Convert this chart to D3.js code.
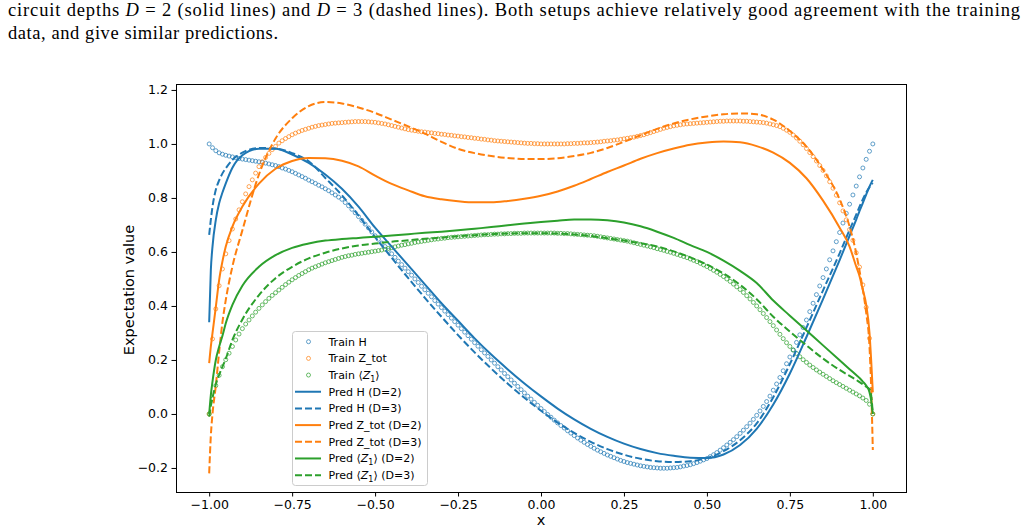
<!DOCTYPE html>
<html>
<head>
<meta charset="utf-8">
<script src="https://cdn.jsdelivr.net/npm/d3@7"></script>
<style>
  body { margin: 0; background: #fff; }
  svg { display: block; }
</style>
</head>
<body>
<div id="chart"></div>
<script>
// ---- data ----
// training points: x = -1.00 ... 1.00 in steps of 0.01 (201 points)
var trainH = [
  1.000,0.986,0.975,0.967,0.962,0.958,0.955,0.952,0.949,0.946,
  0.944,0.942,0.940,0.938,0.936,0.934,0.932,0.929,0.926,0.923,
  0.920,0.916,0.911,0.907,0.902,0.897,0.891,0.885,0.879,0.873,
  0.866,0.860,0.854,0.847,0.841,0.834,0.827,0.819,0.811,0.803,
  0.795,0.783,0.771,0.758,0.745,0.731,0.717,0.703,0.689,0.674,
  0.660,0.647,0.633,0.620,0.606,0.593,0.580,0.566,0.553,0.540,
  0.527,0.514,0.500,0.487,0.473,0.460,0.447,0.434,0.420,0.407,
  0.394,0.381,0.368,0.355,0.342,0.329,0.316,0.303,0.290,0.277,
  0.264,0.251,0.238,0.226,0.213,0.200,0.188,0.175,0.163,0.150,
  0.138,0.126,0.114,0.102,0.090,0.078,0.066,0.055,0.043,0.032,
  0.020,0.009,-0.002,-0.012,-0.023,-0.033,-0.043,-0.052,-0.062,-0.071,
  -0.080,-0.089,-0.097,-0.105,-0.113,-0.120,-0.127,-0.134,-0.140,-0.146,
  -0.152,-0.157,-0.162,-0.167,-0.172,-0.176,-0.180,-0.183,-0.186,-0.189,
  -0.192,-0.194,-0.196,-0.198,-0.199,-0.200,-0.201,-0.201,-0.201,-0.200,
  -0.199,-0.198,-0.196,-0.193,-0.191,-0.188,-0.184,-0.180,-0.175,-0.170,
  -0.165,-0.158,-0.151,-0.143,-0.134,-0.125,-0.115,-0.105,-0.095,-0.084,
  -0.072,-0.060,-0.047,-0.034,-0.020,-0.005,0.011,0.028,0.046,0.066,
  0.088,0.111,0.135,0.160,0.186,0.211,0.237,0.265,0.293,0.320,
  0.348,0.379,0.410,0.442,0.474,0.505,0.537,0.571,0.604,0.638,
  0.672,0.707,0.743,0.777,0.811,0.844,0.878,0.911,0.943,0.973,
  1.000];

var trainZtot = [
  0.000,0.278,0.389,0.475,0.537,0.593,0.642,0.685,0.722,0.756,
  0.786,0.815,0.842,0.867,0.892,0.916,0.934,0.950,0.965,0.979,
  0.991,1.003,1.012,1.020,1.027,1.034,1.040,1.045,1.050,1.054,
  1.058,1.062,1.065,1.068,1.070,1.072,1.074,1.076,1.077,1.078,
  1.079,1.080,1.081,1.082,1.083,1.083,1.083,1.083,1.082,1.081,
  1.080,1.078,1.076,1.074,1.071,1.068,1.065,1.062,1.059,1.056,
  1.053,1.051,1.049,1.047,1.045,1.044,1.042,1.041,1.039,1.038,
  1.036,1.035,1.033,1.032,1.030,1.029,1.027,1.026,1.024,1.023,
  1.021,1.020,1.018,1.017,1.015,1.014,1.012,1.011,1.010,1.009,
  1.008,1.007,1.006,1.005,1.004,1.003,1.002,1.002,1.001,1.001,
  1.000,1.000,1.000,1.000,1.000,1.000,1.000,1.000,1.001,1.001,
  1.002,1.002,1.003,1.004,1.004,1.005,1.006,1.007,1.008,1.010,
  1.011,1.012,1.014,1.015,1.017,1.019,1.021,1.023,1.025,1.028,
  1.031,1.034,1.038,1.042,1.046,1.050,1.054,1.058,1.061,1.064,
  1.067,1.069,1.071,1.073,1.074,1.075,1.076,1.077,1.078,1.079,
  1.080,1.081,1.082,1.083,1.084,1.084,1.085,1.085,1.085,1.085,
  1.085,1.084,1.084,1.083,1.082,1.081,1.080,1.079,1.077,1.074,
  1.071,1.068,1.064,1.058,1.051,1.043,1.033,1.022,1.010,0.997,
  0.983,0.968,0.953,0.937,0.920,0.902,0.882,0.860,0.836,0.810,
  0.782,0.752,0.719,0.683,0.643,0.597,0.544,0.478,0.395,0.280,
  0.000];

var trainZ1 = [
  0.000,0.055,0.105,0.143,0.175,0.201,0.225,0.250,0.274,0.296,
  0.316,0.333,0.348,0.363,0.377,0.391,0.404,0.416,0.428,0.439,
  0.449,0.459,0.469,0.479,0.488,0.497,0.505,0.513,0.520,0.527,
  0.534,0.540,0.545,0.550,0.555,0.560,0.564,0.568,0.572,0.576,
  0.580,0.583,0.586,0.588,0.591,0.593,0.595,0.597,0.599,0.601,
  0.603,0.605,0.607,0.610,0.613,0.616,0.619,0.622,0.625,0.627,
  0.630,0.632,0.635,0.637,0.639,0.641,0.643,0.645,0.647,0.648,
  0.650,0.651,0.653,0.654,0.655,0.656,0.657,0.658,0.659,0.660,
  0.661,0.662,0.663,0.664,0.664,0.665,0.666,0.666,0.667,0.667,
  0.668,0.668,0.669,0.669,0.669,0.670,0.670,0.670,0.670,0.670,
  0.670,0.670,0.670,0.670,0.670,0.669,0.669,0.668,0.668,0.667,
  0.666,0.665,0.664,0.663,0.662,0.661,0.660,0.658,0.656,0.654,
  0.652,0.650,0.648,0.646,0.644,0.642,0.640,0.637,0.634,0.631,
  0.628,0.625,0.622,0.619,0.616,0.612,0.609,0.606,0.602,0.599,
  0.595,0.591,0.587,0.583,0.579,0.574,0.569,0.564,0.558,0.552,
  0.546,0.539,0.532,0.525,0.517,0.509,0.500,0.491,0.481,0.471,
  0.461,0.450,0.438,0.426,0.413,0.400,0.386,0.372,0.357,0.342,
  0.327,0.311,0.295,0.279,0.264,0.250,0.237,0.224,0.212,0.201,
  0.191,0.181,0.172,0.163,0.155,0.147,0.139,0.131,0.123,0.116,
  0.109,0.102,0.095,0.088,0.081,0.074,0.067,0.059,0.050,0.036,
  0.000];

// model predictions
var predX = [-1, -0.995, -0.99, -0.98, -0.97, -0.96, -0.95, -0.93,
  -0.9, -0.85, -0.8, -0.75, -0.7, -0.65, -0.6, -0.55, -0.5, -0.45, -0.4, -0.35,
  -0.3, -0.25, -0.2, -0.15, -0.1, -0.05, 0, 0.05, 0.1, 0.15, 0.2, 0.25, 0.3,
  0.35, 0.4, 0.45, 0.5, 0.55, 0.6, 0.65, 0.7, 0.75, 0.8, 0.85, 0.9,
  0.93, 0.95, 0.96, 0.97, 0.98, 0.99, 0.995, 1];

var predH2 = [0.34, 0.533, 0.62, 0.719, 0.78, 0.82, 0.854, 0.912,
  0.958, 0.982, 0.982, 0.961, 0.93, 0.887, 0.834, 0.768, 0.69, 0.62, 0.55, 0.48,
  0.41, 0.345, 0.28, 0.22, 0.165, 0.113, 0.065, 0.02, -0.02, -0.055, -0.085, -0.11, -0.13,
  -0.145, -0.155, -0.162, -0.163, -0.15, -0.115, -0.055, 0.035, 0.15, 0.285, 0.425, 0.57,
  0.66, 0.72, 0.752, 0.782, 0.812, 0.842, 0.855, 0.867];

var predH3 = [0.663, 0.72, 0.768, 0.83, 0.865, 0.891, 0.91, 0.941,
  0.968, 0.985, 0.983, 0.966, 0.936, 0.874, 0.81, 0.735, 0.655, 0.578, 0.503, 0.43,
  0.36, 0.292, 0.228, 0.168, 0.112, 0.06, 0.012, -0.032, -0.07, -0.103, -0.13, -0.151, -0.166,
  -0.175, -0.178, -0.175, -0.163, -0.138, -0.097, -0.035, 0.062, 0.185, 0.32, 0.458, 0.595,
  0.682, 0.738, 0.768, 0.795, 0.82, 0.84, 0.848, 0.855];

var predZtot2 = [0.188, 0.25, 0.299, 0.397, 0.496, 0.565, 0.62, 0.694,
  0.768, 0.853, 0.908, 0.937, 0.948, 0.947, 0.938, 0.917, 0.883, 0.852, 0.828, 0.806,
  0.795, 0.788, 0.784, 0.784, 0.789, 0.797, 0.808, 0.824, 0.845, 0.87, 0.896, 0.92, 0.945,
  0.966, 0.983, 0.997, 1.005, 1.009, 1.006, 0.992, 0.968, 0.93, 0.873, 0.79, 0.69,
  0.62, 0.546, 0.51, 0.459, 0.405, 0.3, 0.2, 0.08];

var predZtot3 = [-0.22, -0.08, 0.0, 0.105, 0.23, 0.34, 0.422, 0.546,
  0.68, 0.887, 1.02, 1.095, 1.14, 1.155, 1.15, 1.135, 1.115, 1.09, 1.065, 1.038,
  1.008, 0.982, 0.966, 0.955, 0.948, 0.944, 0.944, 0.947, 0.955, 0.967, 0.985, 1.008, 1.032,
  1.056, 1.076, 1.091, 1.102, 1.11, 1.113, 1.11, 1.09, 1.048, 0.99, 0.905, 0.795,
  0.694, 0.595, 0.53, 0.46, 0.375, 0.249, 0.1, -0.133];

var predZ1_2 = [0.0, 0.07, 0.12, 0.2, 0.249, 0.29, 0.336, 0.404,
  0.475, 0.545, 0.588, 0.615, 0.631, 0.642, 0.648, 0.652, 0.656, 0.661, 0.666, 0.671,
  0.675, 0.68, 0.686, 0.692, 0.699, 0.705, 0.711, 0.716, 0.72, 0.72, 0.717, 0.709, 0.695,
  0.675, 0.652, 0.625, 0.6, 0.568, 0.53, 0.485, 0.42, 0.364, 0.309, 0.254, 0.199,
  0.166, 0.144, 0.133, 0.12, 0.105, 0.08, 0.05, 0.0];

var predZ1_3 = [-0.01, 0.03, 0.06, 0.11, 0.145, 0.175, 0.205, 0.274,
  0.35, 0.44, 0.503, 0.545, 0.576, 0.597, 0.613, 0.624, 0.631, 0.638, 0.643, 0.649,
  0.653, 0.658, 0.662, 0.666, 0.668, 0.669, 0.669, 0.668, 0.665, 0.659, 0.651, 0.642, 0.632,
  0.62, 0.602, 0.58, 0.553, 0.52, 0.478, 0.425, 0.36, 0.305, 0.254, 0.205, 0.163,
  0.141, 0.126, 0.118, 0.11, 0.101, 0.092, 0.07, 0.0];

var xTicks = [-1, -0.75, -0.5, -0.25, 0, 0.25, 0.5, 0.75, 1];
var yTicks = [-0.2, 0, 0.2, 0.4, 0.6, 0.8, 1.0, 1.2];

var blue = "#1f77b4", orange = "#ff7f0e", green = "#2ca02c";

// training x grid is the same linspace for every series
var trainX = trainH.map(function(d, i){ return -1 + i / 100; });

var trainSeries = [
  {name: "Train H", values: trainH, color: blue},
  {name: "Train Z_tot", values: trainZtot, color: orange},
  {name: "Train Z1", values: trainZ1, color: green, math: true}
];
var predSeries = [
  {name: "Pred H (D=2)", values: predH2, color: blue, dash: null},
  {name: "Pred H (D=3)", values: predH3, color: blue, dash: "7,3"},
  {name: "Pred Z_tot (D=2)", values: predZtot2, color: orange, dash: null},
  {name: "Pred Z_tot (D=3)", values: predZtot3, color: orange, dash: "7,3"},
  {name: "Pred Z1 (D=2)", values: predZ1_2, color: green, dash: null, math: true, suffix: " (D=2)"},
  {name: "Pred Z1 (D=3)", values: predZ1_3, color: green, dash: "7,3", math: true, suffix: " (D=3)"}
];

// ---- layout ----
var W = 1028, H = 532;
var plotL = 176, plotR = 906, plotT = 84, plotB = 492;
var font = "'DejaVu Sans', sans-serif";

var svg = d3.select("#chart").append("svg")
  .attr("width", W).attr("height", H);

var x = d3.scaleLinear().domain([-1.1, 1.1]).range([plotL, plotR]);
var y = d3.scaleLinear().domain([-0.289, 1.222]).range([plotB, plotT]);

// caption text above the figure (page excerpt)
var cap = svg.append("g")
  .attr("font-family", "'Liberation Serif', 'Times New Roman', serif")
  .attr("font-size", "18.5px")
  .attr("fill", "#000");

var line1 = cap.append("text").attr("x", 8).attr("y", 16)
  .attr("textLength", 1012).attr("lengthAdjust", "spacing");
line1.append("tspan").text("circuit depths ");
line1.append("tspan").attr("font-style", "italic").text("D");
line1.append("tspan").text(" = 2 (solid lines) and ");
line1.append("tspan").attr("font-style", "italic").text("D");
line1.append("tspan").text(" = 3 (dashed lines). Both setups achieve relatively good agreement with the training");

cap.append("text").attr("x", 8).attr("y", 39)
  .attr("textLength", 270).attr("lengthAdjust", "spacing")
  .text("data, and give similar predictions.");

svg.append("clipPath").attr("id", "plotclip")
  .append("rect").attr("x", plotL).attr("y", plotT)
  .attr("width", plotR - plotL).attr("height", plotB - plotT);

var plot = svg.append("g").attr("clip-path", "url(#plotclip)");

// training scatter (drawn first, below lines)
trainSeries.forEach(function(s){
  plot.append("g").selectAll("circle")
    .data(s.values)
    .enter()
    .append("circle")
    .attr("cx", function(d, i){ return x(trainX[i]); })
    .attr("cy", function(d){ return y(d); })
    .attr("r", 2)
    .attr("fill", "none")
    .attr("stroke", s.color)
    .attr("stroke-opacity", 0.7)
    .attr("stroke-width", 1);
});

var line = d3.line()
  .x(function(d, i){ return x(predX[i]); })
  .y(function(d){ return y(d); })
  .curve(d3.curveMonotoneX);

predSeries.forEach(function(s){
  plot.append("path")
    .datum(s.values)
    .attr("d", line)
    .attr("fill", "none")
    .attr("stroke", s.color)
    .attr("stroke-width", 2)
    .attr("stroke-dasharray", s.dash);
});

// axes
var xAxis = svg.append("g")
  .attr("transform", "translate(0," + plotB + ")")
  .call(d3.axisBottom(x).tickValues(xTicks).tickFormat(d3.format(".2f"))
    .tickSize(4.5).tickPadding(3.5));
var yAxis = svg.append("g")
  .attr("transform", "translate(" + plotL + ",0)")
  .call(d3.axisLeft(y).tickValues(yTicks).tickFormat(d3.format(".1f"))
    .tickSize(4.5).tickPadding(3.5));

[xAxis, yAxis].forEach(function(g){
  g.select(".domain").remove();
  g.selectAll("text").attr("font-family", font).attr("font-size", "12.5px").attr("fill", "#000");
  g.selectAll("line").attr("stroke", "#000").attr("stroke-width", 1);
});

// frame
svg.append("rect")
  .attr("x", plotL + 0.5).attr("y", plotT + 0.5)
  .attr("width", plotR - plotL).attr("height", plotB - plotT)
  .attr("fill", "none").attr("stroke", "#000").attr("stroke-width", 1);

// axis labels
svg.append("text")
  .attr("x", (plotL + plotR) / 2).attr("y", 525)
  .attr("text-anchor", "middle")
  .attr("font-family", font).attr("font-size", "14.5px")
  .text("x");

svg.append("text")
  .attr("transform", "translate(134," + ((plotT + plotB) / 2 + 2) + ") rotate(-90)")
  .attr("text-anchor", "middle")
  .attr("font-family", font).attr("font-size", "14.5px")
  .text("Expectation value");

// legend
var leg = svg.append("g").attr("font-family", font).attr("font-size", "11px");
leg.append("rect")
  .attr("x", 292.5).attr("y", 331.5).attr("width", 135).attr("height", 154)
  .attr("rx", 3).attr("fill", "#fff").attr("fill-opacity", 0.8)
  .attr("stroke", "#cccccc").attr("stroke-width", 1);

var rows = trainSeries.map(function(s){ return {s: s, kind: "pt"}; })
  .concat(predSeries.map(function(s){ return {s: s, kind: "ln"}; }));

rows.forEach(function(r, i){
  var yy = 341.7 + i * 16.68;
  if (r.kind == "pt") {
    leg.append("circle").attr("cx", 308.5).attr("cy", yy).attr("r", 2)
      .attr("fill", "none").attr("stroke", r.s.color).attr("stroke-opacity", 0.7)
      .attr("stroke-width", 1);
  } else {
    leg.append("line").attr("x1", 295).attr("x2", 321).attr("y1", yy).attr("y2", yy)
      .attr("stroke", r.s.color).attr("stroke-width", 2)
      .attr("stroke-dasharray", r.s.dash);
  }
  var t = leg.append("text").attr("x", 328.5).attr("y", yy + 4);
  if (r.s.math) {
    var head = r.kind == "pt" ? "Train " : "Pred ";
    t.append("tspan").text(head + "\u27E8");
    t.append("tspan").attr("font-style", "italic").text("Z");
    t.append("tspan").attr("font-size", "8px").attr("dy", 2.5).text("1");
    t.append("tspan").attr("dy", -2.5).text("\u27E9" + (r.s.suffix || ""));
  } else {
    t.text(r.s.name);
  }
});
</script>
</body>
</html>
